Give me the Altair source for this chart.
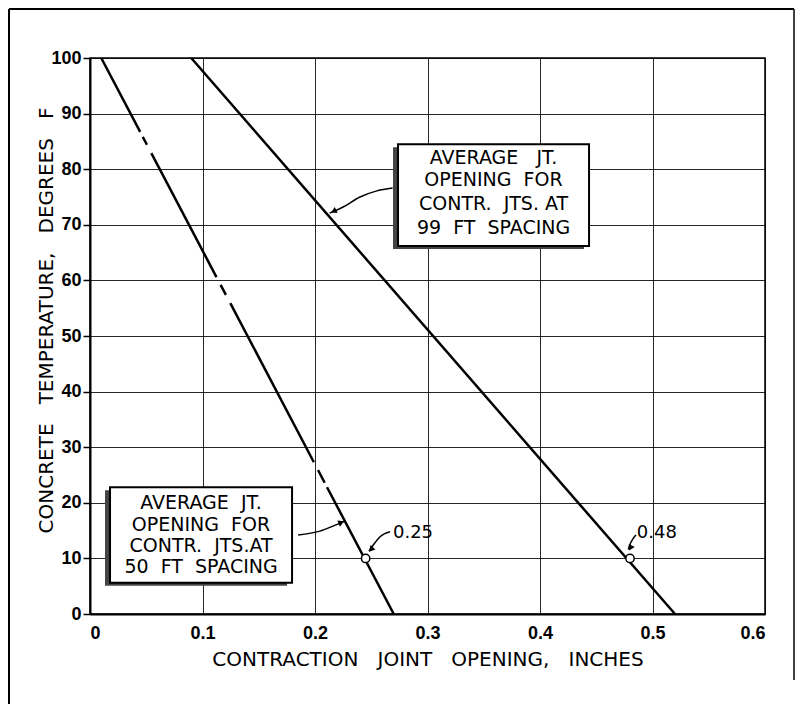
import altair as alt
import pandas as pd

# ---------------- data ----------------
x_ticks = [0, 0.1, 0.2, 0.3, 0.4, 0.5, 0.6]
y_ticks = [0, 10, 20, 30, 40, 50, 60, 70, 80, 90, 100]

# 50 ft spacing line, drawn in pieces (the original has short breaks)
l50_seg = [1, 1, 2, 2, 3, 3, 4, 4, 5, 5, 6, 6, 7, 7]
l50_x = [0.010, 0.0446, 0.0469, 0.0506, 0.0545, 0.1124, 0.1161, 0.1208,
         0.1247, 0.1990, 0.2027, 0.2086, 0.2107, 0.270]
l50_y = [100, 86.7, 85.8, 84.4, 82.9, 60.6, 59.2, 57.4, 55.9, 27.3, 25.9,
         23.6, 22.8, 0]

# 99 ft spacing line
l99_x = [0.09, 0.52]
l99_y = [100, 0]

# marked points
pt_x = [0.245, 0.48]
pt_y = [10, 10]
pt_label = ["0.25", "0.48"]
pt_lab_x = [0.2693, 0.486]
pt_lab_y = [14.6, 14.6]

# annotation boxes
box_x1 = [0.2738, 0.0178]
box_x2 = [0.4436, 0.1796]
box_y1 = [84.5, 22.8]
box_y2 = [66.2, 5.6]

S = "\u00a0"  # non-collapsing space, the lettering is widely spaced
box1_lines = ["AVERAGE" + S * 3 + "JT.", "OPENING" + S * 2 + "FOR",
              "CONTR." + S * 2 + "JTS." + S + "AT", "99" + S * 2 + "FT" + S * 2 + "SPACING"]
box1_x = [0.3587] * 4
box1_y = [82.0, 78.1, 73.8, 69.5]
box2_lines = ["AVERAGE" + S * 2 + "JT.", "OPENING" + S * 2 + "FOR",
              "CONTR." + S * 2 + "JTS.AT", "50" + S * 2 + "FT" + S * 2 + "SPACING"]
box2_x = [0.0987] * 4
box2_y = [19.9, 16.0, 12.3, 8.4]

# curved leader arrows
arr_id = [1, 1, 1, 1, 1, 2, 2, 2, 2, 3, 3, 3, 3, 4, 4, 4, 4]
arr_x = [0.269, 0.255, 0.240, 0.225, 0.213,
         0.185, 0.2044, 0.216, 0.2267,
         0.2667, 0.2578, 0.2518, 0.248,
         0.4853, 0.4829, 0.4794, 0.4785]
arr_y = [76.6, 76.1, 75.0, 73.2, 72.1,
         14.2, 14.9, 15.8, 16.7,
         14.8, 13.9, 12.4, 11.3,
         14.2, 13.6, 12.2, 11.6]
head_x = [0.2165, 0.2234, 0.2498, 0.4804]
head_y = [72.43, 16.46, 11.6, 11.87]
head_angle = [245, 67, 222, 207]

x_title = "CONTRACTION" + S * 3 + "JOINT" + S * 3 + "OPENING," + S * 3 + "INCHES"
y_title = "CONCRETE" + S * 3 + "TEMPERATURE," + S * 3 + "DEGREES" + S * 3 + "F"

TXT_FONT = "DejaVu Sans"
TICK_FONT = "Liberation Sans"

xscale = alt.Scale(domain=[0, 0.6], nice=False, zero=False)
yscale = alt.Scale(domain=[0, 100], nice=False, zero=False)

xaxis = alt.Axis(
    values=x_ticks, grid=True, gridColor="black", gridWidth=1, gridOpacity=0.85,
    ticks=False, labelPadding=10, labelFont=TICK_FONT, labelFontSize=18,
    labelFontWeight="bold", labelColor="black",
    labelExpr="datum.value == 0 ? '0' : format(datum.value, '.1f')",
    domainColor="black", domainWidth=2, titleFont=TXT_FONT, titleFontSize=20,
    titleFontWeight="normal", titleColor="black", titleY=51,
    titleBaseline="alphabetic",
)
yaxis = alt.Axis(
    values=y_ticks, grid=True, gridColor="black", gridWidth=1, gridOpacity=0.85,
    tickSize=7, tickWidth=1.5, tickColor="black", labelPadding=2,
    labelFont=TICK_FONT, labelFontSize=18, labelFontWeight="bold",
    labelColor="black", domainColor="black", domainWidth=2,
    titleFont=TXT_FONT, titleFontSize=20, titleFontWeight="normal",
    titleColor="black", titleX=-38, titleY=262, titleAngle=270,
    titleBaseline="alphabetic", titleAlign="center",
)


def X(field, **kw):
    return alt.X(field, type="quantitative", scale=xscale, axis=xaxis, title=x_title, **kw)


def Y(field, **kw):
    return alt.Y(field, type="quantitative", scale=yscale, axis=yaxis, title=y_title, **kw)


l50 = pd.DataFrame({"seg": l50_seg, "x": l50_x, "y": l50_y})
l99 = pd.DataFrame({"x": l99_x, "y": l99_y})
pts = pd.DataFrame({"x": pt_x, "y": pt_y})
ptl = pd.DataFrame({"x": pt_lab_x, "y": pt_lab_y, "t": pt_label})
boxes = pd.DataFrame({"x1": box_x1, "x2": box_x2, "y1": box_y1, "y2": box_y2})
btext = pd.DataFrame({
    "x": box1_x + box2_x,
    "y": box1_y + box2_y,
    "t": box1_lines + box2_lines,
})
arrows = pd.DataFrame({"id": arr_id, "x": arr_x, "y": arr_y})
heads = pd.DataFrame({"x": head_x, "y": head_y, "a": head_angle})
one = pd.DataFrame({"k": [0]})

line50 = alt.Chart(l50).mark_line(color="black", strokeWidth=2.5, strokeCap="butt").encode(
    x=X("x"), y=Y("y"), detail="seg:N"
)
line99 = alt.Chart(l99).mark_line(color="black", strokeWidth=2.5).encode(x=X("x"), y=Y("y"))

arrow_lines = alt.Chart(arrows).mark_line(
    color="black", strokeWidth=1.5, interpolate="monotone"
).encode(x=X("x"), y=Y("y"), detail="id:N")
arrow_heads = alt.Chart(heads).mark_point(
    shape="triangle-up", filled=True, color="black", size=45, opacity=1
).encode(x=X("x"), y=Y("y"), angle=alt.Angle("a:Q", scale=None))

points = alt.Chart(pts).mark_point(
    shape="circle", filled=True, fill="white", stroke="black", strokeWidth=1.5,
    size=70, opacity=1
).encode(x=X("x"), y=Y("y"))

pt_labels = alt.Chart(ptl).mark_text(
    font=TXT_FONT, fontSize=18, align="left", baseline="middle", color="black"
).encode(x=X("x"), y=Y("y"), text="t:N")

shadow = alt.Chart(boxes).mark_rect(
    color="#444", xOffset=-5, x2Offset=-5, yOffset=3, y2Offset=3
).encode(x=X("x1"), x2="x2", y=Y("y1"), y2="y2")
box = alt.Chart(boxes).mark_rect(
    fill="white", stroke="black", strokeWidth=2
).encode(x=X("x1"), x2="x2", y=Y("y1"), y2="y2")
box_text = alt.Chart(btext).mark_text(
    font=TXT_FONT, fontSize=19, align="center", baseline="middle", color="black"
).encode(x=X("x"), y=Y("y"), text="t:N")

# outer figure frame (decoration)
frame_top = alt.Chart(one).mark_rule(color="black", strokeWidth=2).encode(
    x=alt.value(-81), x2=alt.value(704), y=alt.value(-49)
)
frame_left = alt.Chart(one).mark_rule(color="black", strokeWidth=2).encode(
    x=alt.value(-81), y=alt.value(-49), y2=alt.value(646)
)
frame_right = alt.Chart(one).mark_rule(color="black", strokeWidth=1.5).encode(
    x=alt.value(704), y=alt.value(-49), y2=alt.value(622)
)

chart = alt.layer(
    line50, line99, arrow_lines, arrow_heads, points, pt_labels,
    shadow, box, box_text, frame_top, frame_left, frame_right,
).properties(
    width=675, height=556,
    autosize=alt.AutoSizeParams(type="none"),
    padding={"left": 82, "top": 50, "right": 30, "bottom": 90},
    background="white",
).configure_view(stroke="black", strokeWidth=1.5)

chart.save("out.html", embed_options={"renderer": "svg", "actions": False})
